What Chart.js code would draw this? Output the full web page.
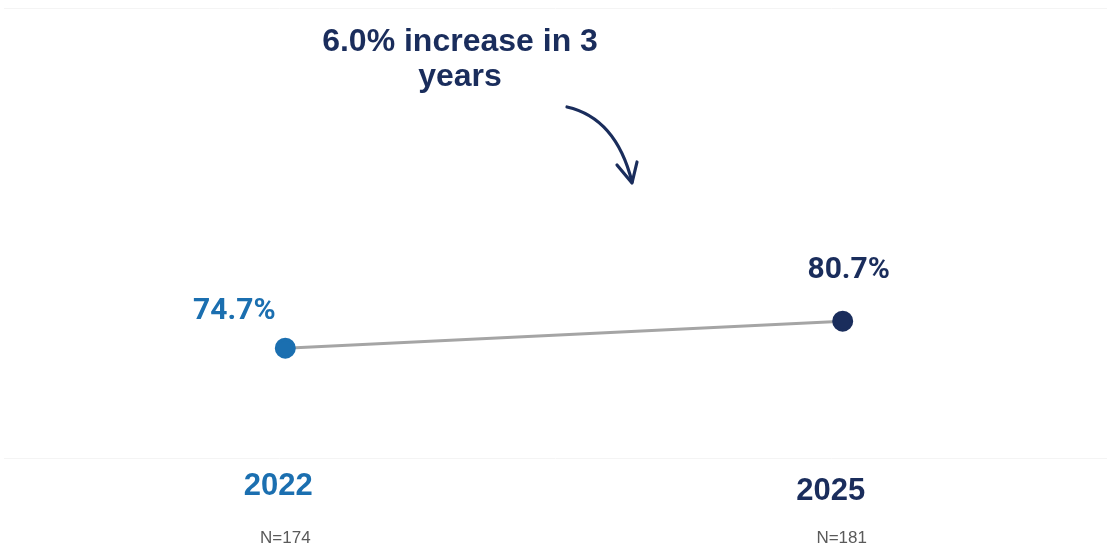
<!DOCTYPE html>
<html>
<head>
<meta charset="utf-8">
<script src="https://cdn.jsdelivr.net/npm/chart.js@4/dist/chart.umd.min.js"></script>
<style>
  html, body { margin: 0; padding: 0; background: #ffffff; }
  #wrap { width: 1107px; height: 548px; position: relative; }
</style>
</head>
<body>
<div id="wrap"><canvas id="c" width="1107" height="548"></canvas></div>
<script>
// ---- Data ----
const years = [2022, 2025];
const values = [74.7, 80.7];
const valueLabels = ["74.7%", "80.7%"];
const sampleSizes = ["N=174", "N=181"];
const titleLines = ["6.0% increase in 3", "years"];

// ---- Styles ----
const BLUE = "#1b6fb0";
const NAVY = "#1a2d5c";
const pointColors = [BLUE, NAVY];

const annotPlugin = {
  id: "annot",
  afterDatasetsDraw(chart) {
    const ctx = chart.ctx;
    const xs = chart.scales.x, ys = chart.scales.y;
    const bottom = chart.chartArea.bottom;
    ctx.save();
    ctx.textAlign = "center";
    ctx.textBaseline = "alphabetic";
    const valOff = [[-51, -29], [6, -43]];
    const yearOff = [[-7, 37], [-12, 42]];
    const nOff = [[0, 85], [-1, 85]];
    years.forEach((yr, i) => {
      const px = xs.getPixelForValue(yr);
      const py = ys.getPixelForValue(values[i]);
      ctx.fillStyle = pointColors[i];
      ctx.font = "bold 30px Roboto, 'Liberation Sans', Arial, sans-serif";
      ctx.fillText(valueLabels[i], px + valOff[i][0], py + valOff[i][1]);
      ctx.font = "bold 31px 'Liberation Sans', Arial, sans-serif";
      ctx.fillText(String(yr), px + yearOff[i][0], bottom + yearOff[i][1]);
      ctx.fillStyle = "#5a5a5a";
      ctx.font = "17px 'Liberation Sans', Arial, sans-serif";
      ctx.fillText(sampleSizes[i], px + nOff[i][0], bottom + nOff[i][1]);
    });
    // title
    ctx.fillStyle = NAVY;
    ctx.font = "bold 32px 'Liberation Sans', Arial, sans-serif";
    ctx.fillText(titleLines[0], 460, 51);
    ctx.fillText(titleLines[1], 460, 86);
    // curved arrow
    ctx.strokeStyle = NAVY;
    ctx.lineWidth = 3.2;
    ctx.lineCap = "round";
    ctx.lineJoin = "round";
    ctx.beginPath();
    ctx.moveTo(567, 107);
    ctx.quadraticCurveTo(616, 118, 632, 182);
    ctx.stroke();
    ctx.beginPath();
    ctx.moveTo(617, 165);
    ctx.lineTo(632, 183);
    ctx.lineTo(637, 162);
    ctx.stroke();
    ctx.restore();
  }
};

new Chart(document.getElementById("c"), {
  type: "line",
  data: {
    datasets: [{
      data: years.map((y, i) => ({ x: y, y: values[i] })),
      borderColor: "#a5a5a5",
      borderWidth: 3,
      pointBackgroundColor: pointColors,
      pointBorderColor: pointColors,
      pointRadius: 9,
      pointHoverRadius: 9,
      tension: 0,
      clip: false
    }]
  },
  options: {
    responsive: false,
    animation: false,
    events: [],
    layout: { autoPadding: false, padding: { left: 4, top: 8, bottom: 90, right: 0 } },
    plugins: { legend: { display: false }, tooltip: { enabled: false } },
    scales: {
      x: { type: "linear", display: false, min: 2020.486, max: 2026.4225 },
      y: {
        min: 50.3, max: 150.3,
        afterBuildTicks: (s) => { s.ticks = [{ value: s.min }, { value: s.max }]; },
        ticks: { display: false },
        grid: { color: "#f4f4f4", drawTicks: false, lineWidth: 1 },
        border: { display: false }
      }
    }
  },
  plugins: [annotPlugin]
});
</script>
</body>
</html>
